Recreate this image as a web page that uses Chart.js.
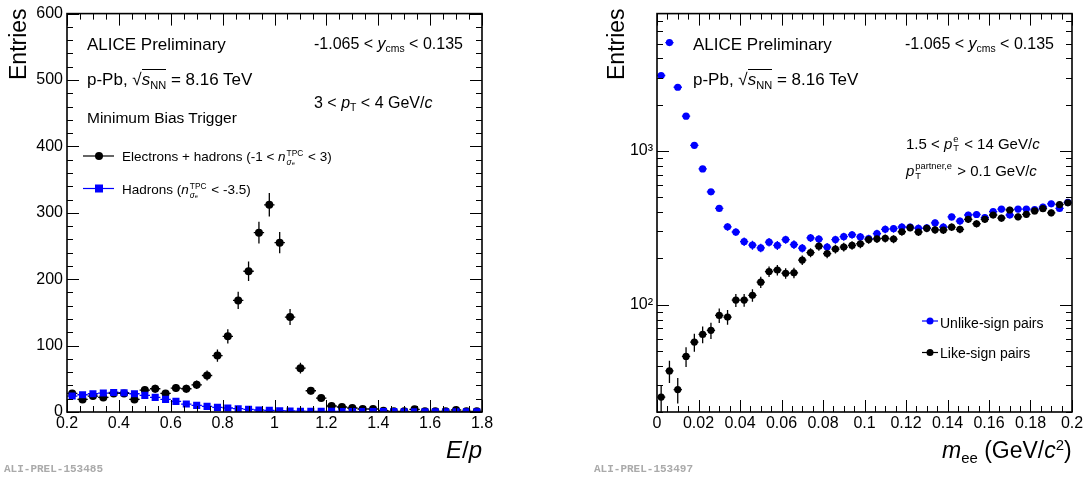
<!DOCTYPE html>
<html>
<head>
<meta charset="utf-8">
<script src="https://cdn.jsdelivr.net/npm/chart.js@4.4.1/dist/chart.umd.min.js"></script>
<style>
body { margin:0; background:#fff; width:1086px; height:479px; position:relative; overflow:hidden;
       font-family:"Liberation Sans", Arial, sans-serif; color:#000; }
.pane { position:absolute; top:0; width:543px; height:479px; }
.t { position:absolute; white-space:nowrap; line-height:1; }
.sb { font-size:0.65em; position:relative; top:0.35em; }
.sp { font-size:0.65em; position:relative; top:-0.55em; }
.stk { display:inline-flex; flex-direction:column; vertical-align:middle; font-size:0.62em; line-height:1.05; margin:0 1px; }
.rt { position:absolute; white-space:nowrap; line-height:1; transform-origin:left top; transform:rotate(-90deg); font-size:23px; }
.tag { position:absolute; font:bold 11px "Liberation Mono", "DejaVu Sans Mono", monospace; color:#aaa; }
svg { position:absolute; left:0; top:0; }
</style>
</head>
<body>
<div class="pane" style="left:0"><canvas id="myChart1" width="543" height="479"></canvas></div>
<div class="pane" style="left:543px"><canvas id="myChart2" width="543" height="479"></canvas></div>

<!-- left panel texts -->
<div class="t" style="left:87px;top:35.6px;font-size:17px">ALICE Preliminary</div>
<div class="t" style="left:87px;top:71px;font-size:17px">p-Pb, √<span style="border-top:1px solid #000"><i>s</i><span class="sb">NN</span></span> = 8.16 TeV</div>
<div class="t" style="left:87px;top:109.6px;font-size:15.5px">Minimum Bias Trigger</div>
<div class="t" style="left:314px;top:35.8px;font-size:16px">-1.065 &lt; <i>y</i><span class="sb">cms</span> &lt; 0.135</div>
<div class="t" style="left:314px;top:94.8px;font-size:16px">3 &lt; <i>p</i><span class="sb">T</span> &lt; 4 GeV/<i>c</i></div>
<div class="t" style="left:122px;top:149.3px;font-size:13.5px">Electrons + hadrons (-1 &lt; <i>n</i><span class="stk"><span>TPC</span><span><i>σ</i><span style="font-size:0.7em">e</span></span></span> &lt; 3)</div>
<div class="t" style="left:122px;top:181.9px;font-size:13.5px">Hadrons (<i>n</i><span class="stk"><span>TPC</span><span><i>σ</i><span style="font-size:0.7em">e</span></span></span> &lt; -3.5)</div>
<div class="rt" style="left:7px;top:80px">Entries</div>
<div class="t" style="left:446px;top:438px;font-size:24px"><i>E</i>/<i>p</i></div>
<div class="tag" style="left:4px;top:463px">ALI-PREL-153485</div>

<!-- right panel texts -->
<div class="t" style="left:693px;top:35.6px;font-size:17px">ALICE Preliminary</div>
<div class="t" style="left:693px;top:71px;font-size:17px">p-Pb, √<span style="border-top:1px solid #000"><i>s</i><span class="sb">NN</span></span> = 8.16 TeV</div>
<div class="t" style="left:905px;top:35.8px;font-size:16px">-1.065 &lt; <i>y</i><span class="sb">cms</span> &lt; 0.135</div>
<div class="t" style="left:906px;top:134.6px;font-size:15px">1.5 &lt; <i>p</i><span class="stk"><span>e</span><span>T</span></span> &lt; 14 GeV/<i>c</i></div>
<div class="t" style="left:906px;top:162.3px;font-size:15px"><i>p</i><span class="stk"><span>partner,e</span><span>T</span></span> &gt; 0.1 GeV/<i>c</i></div>
<div class="t" style="left:940px;top:315.8px;font-size:14px">Unlike-sign pairs</div>
<div class="t" style="left:940px;top:346.4px;font-size:14px">Like-sign pairs</div>
<div class="rt" style="left:605px;top:80px">Entries</div>
<div class="t" style="left:942px;top:439px;font-size:23px"><i>m</i><span class="sb">ee</span> (GeV/<i>c</i><span class="sp">2</span>)</div>
<div class="tag" style="left:594px;top:463px">ALI-PREL-153497</div>

<svg width="1086" height="479">
  <line x1="83" y1="156" x2="114" y2="156" stroke="#000" stroke-width="1.2"/>
  <circle cx="99" cy="156" r="4" fill="#000"/>
  <line x1="83" y1="188.5" x2="114" y2="188.5" stroke="#00f" stroke-width="1.2"/>
  <rect x="95" y="184.5" width="8" height="8" fill="#00f"/>
  <line x1="922" y1="321" x2="938" y2="321" stroke="#00f" stroke-width="1.2"/>
  <circle cx="930" cy="321" r="3.5" fill="#00f"/>
  <line x1="922" y1="352.5" x2="938" y2="352.5" stroke="#000" stroke-width="1.2"/>
  <circle cx="930" cy="352.5" r="3.5" fill="#000"/>
</svg>

<script>
// E/p distribution, 3 < pT < 4 GeV/c (bin centres, width 0.04)
let epBins = [0.22, 0.26, 0.30, 0.34, 0.38, 0.42, 0.46, 0.50, 0.54, 0.58,
              0.62, 0.66, 0.70, 0.74, 0.78, 0.82, 0.86, 0.90, 0.94, 0.98,
              1.02, 1.06, 1.10, 1.14, 1.18, 1.22, 1.26, 1.30, 1.34, 1.38,
              1.42, 1.46, 1.50, 1.54, 1.58, 1.62, 1.66, 1.70, 1.74, 1.78];
let epElectrons = [28, 19, 24, 22, 28, 28, 19, 33, 35, 28,
                   36, 35, 41, 55, 85, 114, 168, 212, 270, 312,
                   255, 143, 66, 32, 21, 9, 7.5, 6, 4.5, 4.5,
                   2, 1, 1, 4, 1, 1, 1, 3, 1, 1];
let epElectronsErr = [5.3, 4.4, 4.9, 4.7, 5.3, 5.3, 4.4, 5.7, 5.9, 5.3,
                      6.0, 5.9, 6.4, 7.4, 9.2, 10.7, 13.0, 14.6, 16.4, 17.7,
                      16.0, 12.0, 8.1, 5.7, 4.6, 3.0, 2.7, 2.4, 2.1, 2.1,
                      1.4, 1, 1, 2, 1, 1, 1, 1.7, 1, 1];
let epHadrons = [24, 26, 27.5, 28.5, 29.5, 29, 27.5, 25, 22, 19,
                 16, 12, 10, 8.5, 7, 6, 5, 4, 3, 2.5,
                 2, 1.5, 1.2, 1, 1, 1, 0.8, 0.8, 0.7, 0.7,
                 0.6, 0.6, 0.5, 0.5, 0.5, 0.5, 0.4, 0.4, 0.4, 0.4];
let epHadronsErr = [0.8, 0.8, 0.8, 0.8, 0.8, 0.8, 0.8, 0.8, 0.8, 0.7,
                    0.6, 0.6, 0.5, 0.5, 0.4, 0.4, 0.4, 0.3, 0.3, 0.3,
                    0.2, 0.2, 0.2, 0.2, 0.2, 0.2, 0.2, 0.2, 0.2, 0.2,
                    0.2, 0.2, 0.2, 0.2, 0.2, 0.2, 0.2, 0.2, 0.2, 0.2];

// invariant mass of e+e- pairs (bin centres, width 0.004 GeV/c2)
let meeBins = [0.002, 0.006, 0.010, 0.014, 0.018, 0.022, 0.026, 0.030, 0.034, 0.038,
               0.042, 0.046, 0.050, 0.054, 0.058, 0.062, 0.066, 0.070, 0.074, 0.078,
               0.082, 0.086, 0.090, 0.094, 0.098, 0.102, 0.106, 0.110, 0.114, 0.118,
               0.122, 0.126, 0.130, 0.134, 0.138, 0.142, 0.146, 0.150, 0.154, 0.158,
               0.162, 0.166, 0.170, 0.174, 0.178, 0.182, 0.186, 0.190, 0.194, 0.198];
let unlikeSign = [3100, 5080, 2600, 1686, 1089, 764, 542, 423, 321, 297,
                  257, 244, 234, 255, 243, 265, 246, 233, 272, 267,
                  237, 265, 277, 285, 276, 269, 290, 309, 312, 320,
                  319, 314, 316, 340, 320, 372, 350, 383, 386, 368,
                  403, 419, 383, 419, 419, 416, 432, 453, 423, 463];
let unlikeSignErr = [56, 71, 51, 41, 33, 28, 23, 21, 18, 17,
                     16, 16, 15, 16, 16, 16, 16, 15, 16, 16,
                     15, 16, 17, 17, 17, 16, 17, 18, 18, 18,
                     18, 18, 18, 18, 18, 19, 19, 20, 20, 19,
                     20, 20, 20, 20, 20, 20, 21, 21, 21, 22];
let likeSign = [25, 37, 28, 46, 57, 64, 68, 85, 83, 107,
                107, 115, 140, 164, 168, 160, 161, 195, 218, 240,
                215, 230, 237, 243, 249, 265, 268, 270, 267, 298,
                317, 297, 314, 307, 306, 319, 309, 359, 336, 359,
                383, 366, 413, 373, 387, 407, 421, 396, 448, 460];
let likeSignErr = [5, 6.1, 5.3, 6.8, 7.6, 8, 8.2, 9.2, 9.1, 10.4,
                   10.3, 10.7, 11.8, 12.8, 13, 12.6, 12.7, 14, 14.8, 15.5,
                   14.7, 15.2, 15.4, 15.6, 15.8, 16.3, 16.4, 16.4, 16.3, 17.3,
                   17.8, 17.2, 17.7, 17.5, 17.5, 17.9, 17.6, 18.9, 18.3, 18.9,
                   19.6, 19.1, 20.3, 19.3, 19.7, 20.2, 20.5, 19.9, 21.2, 21.4];

const tickFont = {family: '"Liberation Sans", Arial, sans-serif', size: 16};
const plainNumber = v => String(Math.round(v * 1000) / 1000);   // 1 instead of 1.0, 0.1 instead of 0.10

function points(xs, ys) {
    return xs.map((x, i) => ({x: x, y: ys[i]}));
}

// error bars (vertical = stat error, horizontal = bin width), drawn below the markers
const errorBars = {
    id: 'errorBars',
    beforeDatasetsDraw(chart) {
        const {ctx, chartArea: a, scales: {x, y}} = chart;
        ctx.save();
        ctx.beginPath();
        ctx.rect(a.left, a.top, a.right - a.left, a.bottom - a.top);
        ctx.clip();
        chart.data.datasets.forEach(ds => {
            ctx.strokeStyle = ds.backgroundColor;
            ctx.lineWidth = 1.3;
            ds.data.forEach((p, i) => {
                const px = x.getPixelForValue(p.x), py = y.getPixelForValue(p.y);
                const e = ds.yErrors[i];
                ctx.beginPath();
                ctx.moveTo(x.getPixelForValue(p.x - ds.halfWidth), py);
                ctx.lineTo(x.getPixelForValue(p.x + ds.halfWidth), py);
                ctx.moveTo(px, y.getPixelForValue(Math.max(p.y - e, y.min)));
                ctx.lineTo(px, y.getPixelForValue(p.y + e));
                ctx.stroke();
            });
        });
        ctx.restore();
    }
};

// ROOT-like frame: box + inward ticks on all four sides
function tickList(scale, o) {
    const out = [];
    if (o.log) {
        for (let d = Math.pow(10, Math.floor(Math.log10(scale.min))); d <= scale.max; d *= 10) {
            for (let k = 1; k < 10; k++) {
                const v = k * d;
                if (v >= scale.min && v <= scale.max) out.push([v, k === 1 ? 12 : 6]);
            }
        }
        return out;
    }
    const n = Math.round((scale.max - scale.min) / o.minor);
    for (let i = 0; i <= n; i++) {
        const v = scale.min + i * o.minor;
        const r = (v - scale.min) / o.major;
        out.push([v, Math.abs(r - Math.round(r)) < 1e-6 ? 12 : 6]);
    }
    return out;
}

const frameTicks = {
    id: 'frameTicks',
    afterDraw(chart, args, opts) {
        const {ctx, chartArea: a, scales: {x, y}} = chart;
        ctx.save();
        ctx.strokeStyle = '#000';
        ctx.lineWidth = 1;
        ctx.beginPath();
        tickList(x, opts.x).forEach(([v, len]) => {
            const px = Math.round(x.getPixelForValue(v)) + 0.5;
            ctx.moveTo(px, a.bottom); ctx.lineTo(px, a.bottom - len);
            ctx.moveTo(px, a.top); ctx.lineTo(px, a.top + len);
        });
        tickList(y, opts.y).forEach(([v, len]) => {
            const py = Math.round(y.getPixelForValue(v)) + 0.5;
            ctx.moveTo(a.left, py); ctx.lineTo(a.left + len, py);
            ctx.moveTo(a.right, py); ctx.lineTo(a.right - len, py);
        });
        ctx.stroke();
        ctx.lineWidth = 1.6;
        ctx.strokeRect(a.left, a.top, a.right - a.left, a.bottom - a.top);
        ctx.restore();
    }
};

chart1();
chart2();

function chart1() {
    new Chart(document.getElementById('myChart1'), {
        type: 'scatter',
        data: {
            datasets: [{
                label: 'Hadrons',
                data: points(epBins, epHadrons),
                yErrors: epHadronsErr,
                halfWidth: 0.02,
                pointStyle: 'rect',
                pointRadius: 5,
                backgroundColor: '#0000ff',
                borderWidth: 0
            }, {
                label: 'Electrons + hadrons',
                data: points(epBins, epElectrons),
                yErrors: epElectronsErr,
                halfWidth: 0.02,
                pointStyle: 'circle',
                pointRadius: 4,
                backgroundColor: '#000000',
                borderWidth: 0
            }]
        },
        options: {
            responsive: false,
            animation: false,
            events: [],
            layout: {padding: {top: 12, right: 61, left: 0, bottom: 0}},
            plugins: {
                legend: {display: false},
                tooltip: {enabled: false},
                frameTicks: {x: {major: 0.2, minor: 0.05}, y: {major: 100, minor: 20}}
            },
            scales: {
                x: {
                    type: 'linear', min: 0.2, max: 1.8,
                    grid: {display: false, drawTicks: false},
                    border: {display: false},
                    ticks: {stepSize: 0.2, color: '#000', font: tickFont, padding: 2, callback: plainNumber},
                    afterFit: s => { s.height = 67; }
                },
                y: {
                    type: 'linear', min: 0, max: 600,
                    grid: {display: false, drawTicks: false},
                    border: {display: false},
                    ticks: {stepSize: 100, color: '#000', font: tickFont, padding: 4},
                    afterFit: s => { s.width = 67; }
                }
            }
        },
        plugins: [errorBars, frameTicks]
    });
}

function chart2() {
    new Chart(document.getElementById('myChart2'), {
        type: 'scatter',
        data: {
            datasets: [{
                label: 'Like-sign pairs',
                data: points(meeBins, likeSign),
                yErrors: likeSignErr,
                halfWidth: 0.002,
                pointStyle: 'circle',
                pointRadius: 3.6,
                backgroundColor: '#000000',
                borderWidth: 0
            }, {
                label: 'Unlike-sign pairs',
                data: points(meeBins, unlikeSign),
                yErrors: unlikeSignErr,
                halfWidth: 0.002,
                pointStyle: 'circle',
                pointRadius: 3.6,
                backgroundColor: '#0000ff',
                borderWidth: 0
            }]
        },
        options: {
            responsive: false,
            animation: false,
            events: [],
            layout: {padding: {top: 12, right: 14, left: 0, bottom: 0}},
            plugins: {
                legend: {display: false},
                tooltip: {enabled: false},
                frameTicks: {x: {major: 0.02, minor: 0.005}, y: {log: true}}
            },
            scales: {
                x: {
                    type: 'linear', min: 0, max: 0.2,
                    grid: {display: false, drawTicks: false},
                    border: {display: false},
                    ticks: {stepSize: 0.02, color: '#000', font: tickFont, padding: 2, callback: plainNumber},
                    afterFit: s => { s.height = 67; }
                },
                y: {
                    type: 'logarithmic', min: 20, max: 7840,
                    grid: {display: false, drawTicks: false},
                    border: {display: false},
                    ticks: {
                        autoSkip: false, color: '#000', font: tickFont, padding: 4,
                        callback: v => Math.abs(v - 100) < 1e-6 ? '10²' : (Math.abs(v - 1000) < 1e-6 ? '10³' : '')
                    },
                    afterFit: s => { s.width = 114; }
                }
            }
        },
        plugins: [errorBars, frameTicks]
    });
}
</script>
</body>
</html>
